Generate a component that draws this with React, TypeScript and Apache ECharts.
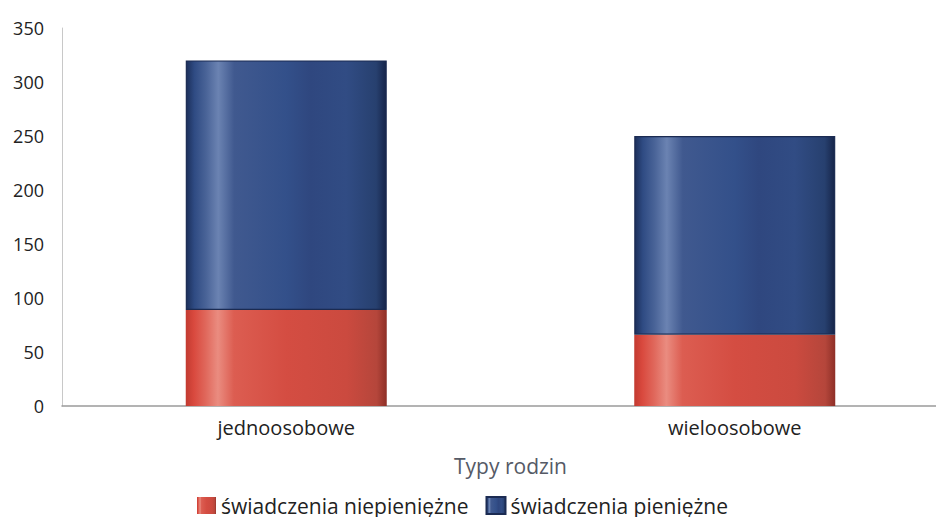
import React, { useEffect, useRef } from "react";
import * as echarts from "echarts";

const categories = ["jednoosobowe", "wieloosobowe"];
const nonCash = [89, 66];
const cash = [231, 184];
const seriesNames = ["świadczenia niepieniężne", "świadczenia pieniężne"];
const yTicks = [0, 50, 100, 150, 200, 250, 300, 350];
const axisName = "Typy rodzin";

const FONT = "'Open Sans', 'Noto Sans', sans-serif";

const redGrad = new echarts.graphic.LinearGradient(0, 0, 1, 0, [
  { offset: 0, color: "#c23a30" },
  { offset: 0.04, color: "#d9493e" },
  { offset: 0.1, color: "#e0685c" },
  { offset: 0.16, color: "#ea8c80" },
  { offset: 0.24, color: "#dc5d51" },
  { offset: 0.5, color: "#d44d42" },
  { offset: 0.8, color: "#cb4a3f" },
  { offset: 0.95, color: "#b5463b" },
  { offset: 1, color: "#8e2f27" },
]);

const blueGrad = new echarts.graphic.LinearGradient(0, 0, 1, 0, [
  { offset: 0, color: "#1c2f5a" },
  { offset: 0.04, color: "#2f4b83" },
  { offset: 0.1, color: "#4a6498" },
  { offset: 0.16, color: "#6b83b2" },
  { offset: 0.24, color: "#40598f" },
  { offset: 0.5, color: "#33508a" },
  { offset: 0.62, color: "#2f477f" },
  { offset: 0.8, color: "#314c84" },
  { offset: 0.95, color: "#27406f" },
  { offset: 1, color: "#16254a" },
]);

export default function App() {
  const ref = useRef<HTMLDivElement>(null);
  useEffect(() => {
    if (!ref.current) return;
    const chart = echarts.init(ref.current, undefined, { renderer: "svg" });
    chart.setOption({
      animation: false,
      backgroundColor: "#ffffff",
      grid: { left: 62, top: 28, width: 897, height: 378, containLabel: false },
      legend: {
        top: 490,
        left: 192,
        itemWidth: 19,
        itemHeight: 17,
        itemGap: 17,
        icon: "rect",
        textStyle: { fontFamily: FONT, fontSize: 21, color: "#222" },
        data: seriesNames,
      },
      xAxis: {
        type: "category",
        data: categories,
        name: axisName,
        nameLocation: "middle",
        nameGap: 49,
        nameTextStyle: { fontFamily: FONT, fontSize: 21, color: "#555a66" },
        axisLine: { lineStyle: { color: "#9a9a9a", width: 1.5 } },
        axisTick: { show: false },
        axisLabel: { fontFamily: FONT, fontSize: 20, color: "#222", margin: 11 },
      },
      yAxis: {
        type: "value",
        min: 0,
        max: 350,
        interval: 50,
        axisLine: { show: true, lineStyle: { color: "#c8c8c8", width: 1 } },
        axisTick: { show: false },
        splitLine: { show: false },
        axisLabel: {
          fontFamily: FONT,
          fontSize: 18,
          color: "#222",
          margin: 18,
          customValues: yTicks,
        },
      },
      series: [
        {
          name: seriesNames[0],
          type: "bar",
          stack: "total",
          data: nonCash,
          barWidth: 201,
          itemStyle: { color: redGrad },
        },
        {
          name: seriesNames[1],
          type: "bar",
          stack: "total",
          data: cash,
          barWidth: 201,
          itemStyle: { color: blueGrad, borderColor: "#1b2b52", borderWidth: 1.2 },
        },
      ],
    });
    return () => chart.dispose();
  }, []);
  return (
    <div style={{ width: 944, height: 525, margin: -8, overflow: "hidden", position: "relative" }}>
      <div ref={ref} style={{ width: 1000, height: 525 }} />
    </div>
  );
}
